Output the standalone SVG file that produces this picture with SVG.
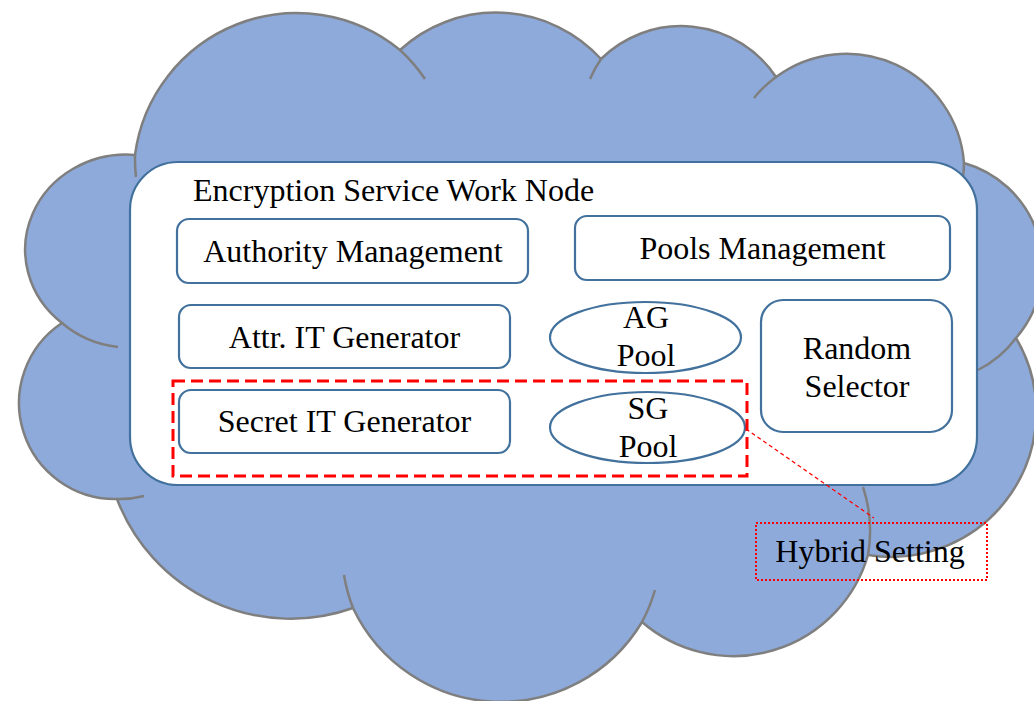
<svg xmlns="http://www.w3.org/2000/svg" width="1034" height="701" viewBox="0 0 1034 701">
<style>
.cloud{fill:#8EAADB;stroke:#7F7F7F;stroke-width:2.5}
.tail{fill:none;stroke:#7F7F7F;stroke-width:2.5}
.box{fill:#FFFFFF;stroke:#41719C;stroke-width:2.2}
.t{font-family:"Liberation Serif","Times New Roman",serif;font-size:32px;fill:#000000;text-anchor:middle}
.hyb{fill:none;stroke:#FF0000;stroke-width:3;stroke-dasharray:12 6}
.lead{fill:none;stroke:#FF0000;stroke-width:1.3;stroke-dasharray:4 3}
.dot{fill:none;stroke:#FF0000;stroke-width:2;stroke-dasharray:2 2}
</style>
<g id="cloud">
<path class="cloud" d="M117,499 A96,96 0 0 1 62,323 A101,95 0 0 1 135,155 A163,163 0 0 1 400,50 A142,142 0 0 1 601,59 A114,114 0 0 1 776,77 A118,118 0 0 1 964,163 A108,108 0 0 1 1016,338 A145,145 0 0 1 868,555 A140,140 0 0 1 642,622 A164,164 0 0 1 353,608 A186,186 0 0 1 117,499 Z"/>
<path class="tail" d="M135,155 A163,163 0 0 0 136,177 M400,50 A163,163 0 0 1 425,79 M601,59 A114,114 0 0 0 590,79 M776,77 A118,118 0 0 0 754,98 M964,163 A118,118 0 0 1 963,177 M1016,338 A108,108 0 0 1 978,370 M868,555 A140,140 0 0 0 863,487 M642,622 A164,164 0 0 0 655,590 M353,608 A164,164 0 0 1 344,575 M62,323 A101,95 0 0 0 118,347 M117,499 A96,96 0 0 0 144,496"/>
</g>
<g id="work-node">
<rect class="box" x="130" y="162" width="847" height="323" rx="48" ry="48"/>
<text class="t" x="193" y="201" style="text-anchor:start">Encryption Service Work Node</text>
</g>
<g id="authority-management">
<rect class="box" x="177" y="219" width="351" height="64" rx="12"/>
<text class="t" x="353" y="262">Authority Management</text>
</g>
<g id="pools-management">
<rect class="box" x="575" y="216" width="375" height="64" rx="12"/>
<text class="t" x="762.5" y="259">Pools Management</text>
</g>
<g id="attr-it-generator">
<rect class="box" x="179" y="305" width="331" height="63" rx="12"/>
<text class="t" x="344.5" y="348">Attr. IT Generator</text>
</g>
<g id="secret-it-generator">
<rect class="box" x="179" y="390" width="331" height="63" rx="12"/>
<text class="t" x="344.5" y="432">Secret IT Generator</text>
</g>
<g id="ag-pool">
<ellipse class="box" cx="645.5" cy="337.5" rx="95.5" ry="35.5"/>
<text class="t" x="646" y="328">AG</text>
<text class="t" x="646" y="366">Pool</text>
</g>
<g id="sg-pool">
<ellipse class="box" cx="647.5" cy="427.5" rx="97.5" ry="35.5"/>
<text class="t" x="648" y="419">SG</text>
<text class="t" x="648" y="457">Pool</text>
</g>
<g id="random-selector">
<rect class="box" x="761" y="300" width="191" height="132" rx="22"/>
<text class="t" x="857" y="359">Random</text>
<text class="t" x="857" y="397">Selector</text>
</g>
<g id="hybrid-group">
<rect class="hyb" x="173" y="381" width="574" height="95"/>
</g>
<g id="connectors">
<line class="lead" x1="746" y1="429" x2="874" y2="518"/>
</g>
<g id="hybrid-setting">
<rect class="dot" x="756" y="523" width="231" height="57"/>
<text class="t" x="870" y="562">Hybrid Setting</text>
</g>
</svg>
